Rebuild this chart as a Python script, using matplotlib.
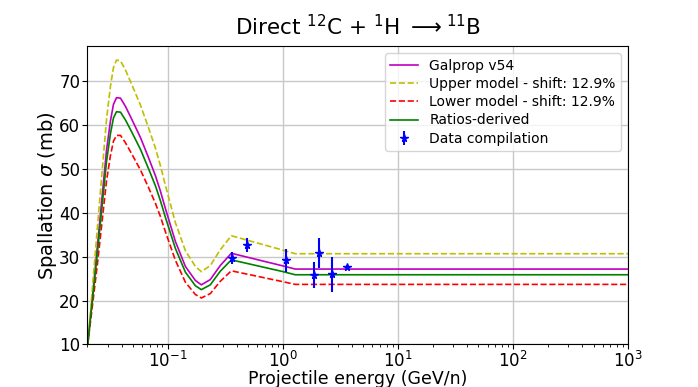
import numpy as np
import matplotlib
matplotlib.use("Agg")
import matplotlib.pyplot as plt

# Energies (GeV/n) at which the model curves are read
energy = [0.0202, 0.0245, 0.0294, 0.0318, 0.0338, 0.0359, 0.0389, 0.0430, 0.0491,
          0.0580, 0.0684, 0.0782, 0.0864, 0.0955, 0.1166, 0.1424, 0.1738, 0.196,
          0.2344, 0.286, 0.357, 1.008, 1.281, 1000.0]

galprop = [10.0, 32.5, 54.3, 61.0, 64.8, 66.3, 66.2, 64.3, 61.2,
           57.2, 52.5, 48.5, 45.0, 41.0, 33.5, 27.8, 24.6, 23.6,
           24.8, 28.0, 30.8, 27.9, 27.2, 27.2]

upper = [10.0, 36.7, 61.3, 68.9, 73.2, 74.9, 74.7, 72.6, 69.1,
         64.6, 59.3, 54.8, 50.8, 46.3, 37.8, 31.4, 27.8, 26.6,
         28.0, 31.6, 34.8, 31.5, 30.7, 30.7]

lower = [10.0, 28.3, 47.3, 53.1, 56.4, 57.7, 57.7, 56.0, 53.3,
         49.8, 45.7, 42.2, 39.2, 35.7, 29.2, 24.2, 21.4, 20.6,
         21.6, 24.4, 26.8, 24.3, 23.7, 23.7]

ratios = [10.0, 30.9, 51.7, 58.1, 61.7, 63.1, 63.0, 61.2, 58.3,
          54.5, 50.0, 46.2, 42.8, 39.0, 31.9, 26.5, 23.4, 22.5,
          23.6, 26.7, 29.3, 26.6, 25.9, 25.9]

data_e = [0.364, 0.489, 1.055, 1.87, 2.08, 2.70, 3.64]
data_xs = [29.8, 32.6, 29.2, 25.8, 30.8, 26.0, 27.6]
data_err = [1.4, 1.6, 2.6, 3.0, 3.4, 4.0, 0.5]

fig, ax = plt.subplots(figsize=(6.98, 3.87), dpi=100)

ax.plot(energy, galprop, color='m', lw=1.2, label='Galprop v54')
ax.plot(energy, upper, color='y', ls='--', lw=1.2, label='Upper model - shift: 12.9%')
ax.plot(energy, lower, color='r', ls='--', lw=1.2, label='Lower model - shift: 12.9%')
ax.plot(energy, ratios, color='g', lw=1.2, label='Ratios-derived')
ax.errorbar(data_e, data_xs, yerr=data_err, fmt='*', color='b', ms=5.5, elinewidth=1.5,
            label='Data compilation')

ax.set_xscale('log')
ax.set_xlim(0.02, 1000)
ax.set_ylim(10, 78)
ax.set_yticks([10, 20, 30, 40, 50, 60, 70])
ax.grid(True, which='major', color='#c8c8c8', lw=1)
ax.tick_params(axis='both', labelsize=12, pad=1.5)
ax.set_xlabel('Projectile energy (GeV/n)', fontsize=12.5)
ax.xaxis.set_label_coords(0.5, -0.085)
ax.set_ylabel(r'Spallation $\sigma$ (mb)', fontsize=14, labelpad=0)
ax.set_title(r'Direct $^{12}$C + $^{1}$H $\longrightarrow$$^{11}$B', fontsize=15.5, pad=8)
ax.legend(loc='upper right', fontsize=10, labelspacing=0.3)

fig.savefig('out.png', dpi=100)
